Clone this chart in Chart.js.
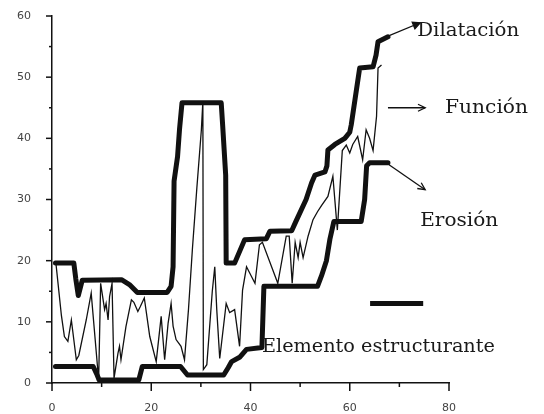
<!DOCTYPE html>
<html>
<head>
<meta charset="utf-8">
<script src="https://cdn.jsdelivr.net/npm/chart.js@4.4.0/dist/chart.umd.min.js"></script>
<style>
  html, body { margin: 0; padding: 0; background: #fff; }
  #wrap { width: 544px; height: 414px; }
</style>
</head>
<body>
<div id="wrap"><canvas id="morfologia_chart" width="544" height="414"></canvas></div>
<script>
// funcion original
var funcionX = [0.8, 1.9, 2.5, 3.2, 3.9, 4.9, 5.4, 6.9, 7.9, 9.4, 9.8, 10.6, 10.9, 11.3, 11.6, 12.1, 12.5, 13.3, 13.6, 13.9,
                14.9, 16.0, 16.5, 17.3, 17.8, 18.6, 19.7, 21.0, 22.0, 22.7, 23.4, 24.0, 24.4, 25.0, 26.0, 26.7, 27.5, 28.3, 29.2, 30.1,
                30.4, 30.5, 31.2, 32.3, 32.8, 33.2, 33.8, 35.1, 35.8, 36.8, 37.8, 38.4, 39.2, 40.2, 40.9, 41.8, 42.4, 45.5, 47.2, 47.8,
                48.4, 49.0, 49.6, 50.0, 50.6, 51.6, 52.6, 53.5, 54.3, 55.6, 56.6, 57.5, 58.5, 59.3, 60.0, 60.6, 61.6, 62.6, 63.3, 64.0,
                64.7, 65.4, 65.7, 66.4];
var funcionY = [19.5, 11.0, 7.6, 6.8, 10.3, 3.8, 4.5, 10.3, 14.7, 0.5, 16.3, 12.0, 13.0, 10.3, 14.1, 16.3, 0.8, 4.9, 6.0, 3.8,
                9.2, 13.6, 13.2, 11.7, 12.5, 13.9, 7.6, 3.5, 10.9, 3.8, 9.8, 13.0, 9.3, 7.1, 6.0, 3.8, 12.0, 22.0, 32.0, 41.4,
                46.0, 2.2, 3.0, 15.0, 19.0, 12.0, 4.0, 13.0, 11.5, 12.0, 6.0, 15.2, 19.0, 17.4, 16.3, 22.6, 23.0, 16.3, 24.0, 24.0,
                16.3, 23.0, 20.5, 23.0, 20.5, 24.0, 26.7, 28.0, 29.0, 30.5, 33.8, 25.0, 38.0, 38.9, 37.6, 39.0, 40.3, 36.5, 41.4, 40.0,
                38.0, 43.6, 51.5, 52.0];

// dilatacion (envolvente superior)
var dilatacionX = [0.7, 4.4, 4.8, 5.3, 6.1, 14.0, 15.6, 17.2, 23.2, 24.0, 24.4, 24.6, 25.3, 25.7, 26.2, 34.1, 34.4, 35.0, 35.1, 36.8,
                   38.8, 43.2, 43.9, 48.3, 49.2, 51.2, 52.3, 53.0, 55.0, 55.4, 55.6, 57.0, 59.0, 60.0, 60.3, 61.6, 62.0, 64.7, 65.3, 65.7, 67.7];
var dilatacionY = [19.6, 19.6, 17.0, 14.3, 16.8, 16.9, 16.1, 14.8, 14.8, 15.8, 19.0, 33.0, 37.0, 41.5, 45.8, 45.8, 42.0, 34.0, 19.6, 19.6,
                   23.4, 23.6, 24.8, 24.9, 26.5, 30.0, 32.7, 34.0, 34.5, 35.5, 38.1, 39.0, 40.0, 41.0, 42.2, 49.3, 51.5, 51.7, 53.6, 55.8, 56.6];

// erosion (envolvente inferior)
var erosionX = [0.7, 8.3, 9.0, 9.5, 17.5, 18.2, 25.9, 27.3, 34.6, 35.5, 36.2, 37.8, 39.2, 42.3, 42.7, 53.5, 54.3, 55.3, 56.0, 56.8,
                62.3, 63.0, 63.4, 64.0, 67.7];
var erosionY = [2.7, 2.7, 1.5, 0.5, 0.5, 2.7, 2.7, 1.3, 1.3, 2.5, 3.5, 4.2, 5.5, 5.8, 15.8, 15.8, 17.5, 20.0, 23.5, 26.4,
                26.4, 30.0, 35.5, 36.0, 36.0];

var xTicks = [0, 20, 40, 60, 80];
var yTicks = [0, 10, 20, 30, 40, 50, 60];

function puntos(xs, ys) {
    return xs.map(function (x, i) { return { x: x, y: ys[i] }; });
}

var tinta = "#111";
var fuenteTexto = '19px "DejaVu Serif"';

// marcas de los ejes y anotaciones
var anotaciones = {
    id: "anotaciones",
    afterDraw: function (chart) {
        var ctx = chart.ctx;
        var sx = chart.scales.x, sy = chart.scales.y;
        var area = chart.chartArea;
        function px(v) { return sx.getPixelForValue(v); }
        function py(v) { return sy.getPixelForValue(v); }

        ctx.save();
        ctx.strokeStyle = tinta;
        ctx.lineWidth = 1.5;
        // ticks eje x
        for (var v = 0; v <= 80; v += 10) {
            var len = xTicks.indexOf(v) >= 0 ? 8 : 4;
            ctx.beginPath();
            ctx.moveTo(px(v), area.bottom);
            ctx.lineTo(px(v), area.bottom + len);
            ctx.stroke();
        }
        // ticks eje y
        for (var w = 0; w <= 60; w += 5) {
            var l2 = yTicks.indexOf(w) >= 0 ? 6 : 3;
            ctx.beginPath();
            ctx.moveTo(area.left, py(w));
            ctx.lineTo(area.left - l2, py(w));
            ctx.stroke();
        }

        function flecha(x1, y1, x2, y2, llena) {
            var a = px(x1), b = py(y1), c = px(x2), d = py(y2);
            var ang = Math.atan2(d - b, c - a);
            ctx.lineWidth = 1.3;
            ctx.beginPath();
            ctx.moveTo(a, b);
            ctx.lineTo(c, d);
            ctx.stroke();
            var h = 8;
            ctx.beginPath();
            ctx.moveTo(c - h * Math.cos(ang - 0.45), d - h * Math.sin(ang - 0.45));
            ctx.lineTo(c, d);
            ctx.lineTo(c - h * Math.cos(ang + 0.45), d - h * Math.sin(ang + 0.45));
            if (llena) { ctx.closePath(); ctx.fillStyle = tinta; ctx.fill(); }
            ctx.stroke();
        }

        function texto(str, x, y, ancho) {
            ctx.font = fuenteTexto;
            ctx.textAlign = "left";
            ctx.textBaseline = "middle";
            ctx.fillStyle = "#1a1a1a";
            var m = ctx.measureText(str).width;
            ctx.save();
            ctx.translate(px(x), py(y));
            ctx.scale(ancho / m, 1);
            ctx.fillText(str, 0, 0);
            ctx.restore();
        }

        flecha(67.7, 56.7, 74.2, 58.9, true);
        texto("Dilatación", 73.6, 57.6, 102);

        flecha(67.7, 45.0, 75.2, 45.0, false);
        texto("Función", 79.2, 45.0, 83);

        flecha(67.7, 35.8, 75.2, 31.6, false);
        texto("Erosión", 74.2, 26.5, 78);

        // muestra del elemento estructurante
        ctx.lineWidth = 5;
        ctx.beginPath();
        ctx.moveTo(px(64.1), py(13));
        ctx.lineTo(px(74.8), py(13));
        ctx.stroke();
        texto("Elemento estructurante", 42.3, 5.8, 233);

        ctx.restore();
    }
};

var ctx = document.getElementById("morfologia_chart");
var morfologiaChart = new Chart(ctx, {
    type: "line",
    data: {
        datasets: [{
            label: "Función",
            data: puntos(funcionX, funcionY),
            borderColor: tinta,
            borderWidth: 1.3,
            pointRadius: 0,
            tension: 0,
            clip: false
        }, {
            label: "Dilatación",
            data: puntos(dilatacionX, dilatacionY),
            borderColor: tinta,
            borderWidth: 5,
            borderJoinStyle: "round",
            borderCapStyle: "round",
            pointRadius: 0,
            tension: 0,
            clip: false
        }, {
            label: "Erosión",
            data: puntos(erosionX, erosionY),
            borderColor: tinta,
            borderWidth: 5,
            borderJoinStyle: "round",
            borderCapStyle: "round",
            pointRadius: 0,
            tension: 0,
            clip: false
        }]
    },
    options: {
        responsive: false,
        animation: false,
        devicePixelRatio: 1,
        layout: { padding: { left: 0, top: 16, right: 95, bottom: 0 } },
        plugins: {
            legend: { display: false },
            tooltip: { enabled: false }
        },
        scales: {
            x: {
                type: "linear",
                min: 0,
                max: 80,
                afterFit: function (scale) { scale.height = 31; },
                grid: { display: false },
                border: { display: true, color: tinta, width: 1.5 },
                ticks: {
                    stepSize: 10,
                    autoSkip: false,
                    maxRotation: 0,
                    padding: 11,
                    color: "#444",
                    font: { family: "DejaVu Sans", size: 11 },
                    callback: function (v) { return xTicks.indexOf(v) >= 0 ? v : ""; }
                }
            },
            y: {
                type: "linear",
                min: 0,
                max: 60,
                afterFit: function (scale) {
                    scale.width = 52;
                    scale.paddingTop = 0;
                    scale.paddingBottom = 0;
                },
                grid: { display: false },
                border: { display: true, color: tinta, width: 1.5 },
                ticks: {
                    stepSize: 5,
                    autoSkip: false,
                    padding: 13,
                    color: "#444",
                    font: { family: "DejaVu Sans", size: 11 },
                    callback: function (v) { return yTicks.indexOf(v) >= 0 ? v : ""; }
                }
            }
        }
    },
    plugins: [anotaciones]
});
</script>
</body>
</html>
